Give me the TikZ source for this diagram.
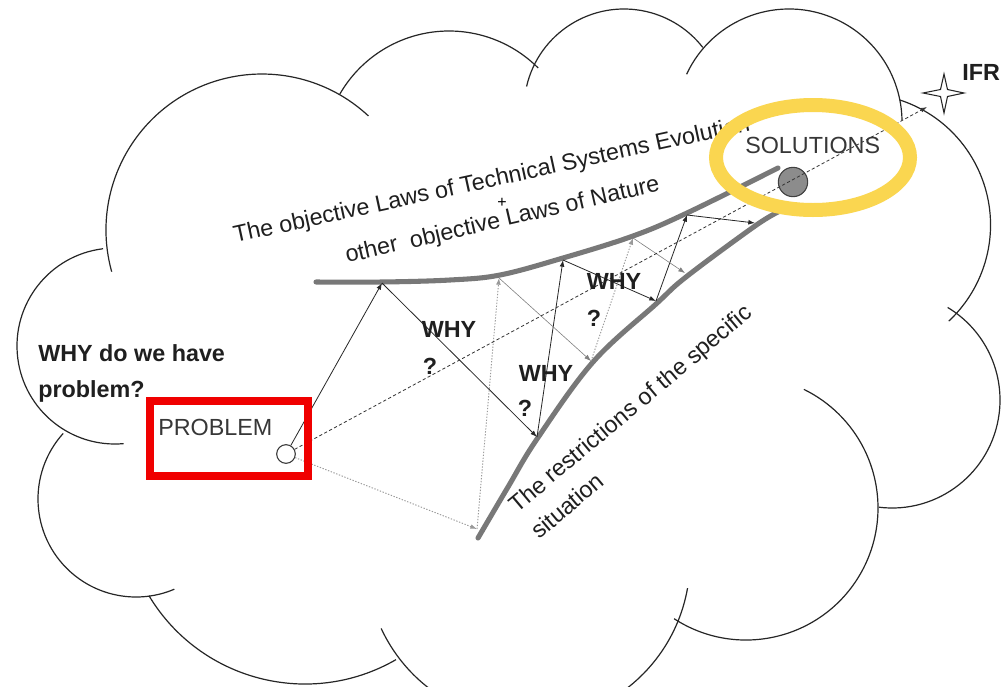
\documentclass[tikz,border=0pt]{standalone}
\usepackage{fontspec}
\setmainfont{Liberation Sans}
\usetikzlibrary{arrows.meta}
\definecolor{ringyellow}{RGB}{250,214,80}
\definecolor{boxred}{RGB}{240,0,0}
\definecolor{inkgray}{RGB}{55,55,55}
\definecolor{curvegray}{RGB}{120,120,120}
\begin{document}
\begin{tikzpicture}[x=0.75pt,y=-0.75pt,
  cloudline/.style={draw=black!85,line width=0.9pt},
  boundary/.style={draw=curvegray,line width=3.8pt,line cap=round},
  tip/.style={-{Latex[length=5pt,width=3.6pt]}},
  why/.style={tip,line width=0.6pt,black!85},
  whydot/.style={tip,line width=0.7pt,black!40,dash pattern=on 1pt off 1.2pt},
  whythin/.style={tip,line width=0.45pt,black!50},
  mainpath/.style={tip,line width=0.6pt,black!80,dash pattern=on 2.4pt off 1.8pt},
  lbl/.style={font=\fontsize{17.5}{21}\selectfont,text=black!88,inner sep=0pt},
  boldlbl/.style={font=\fontsize{17.5}{21}\selectfont\bfseries,text=black!88,inner sep=0pt},
  plainlbl/.style={font=\fontsize{17.5}{21}\selectfont,text=inkgray,inner sep=0pt}
]
\useasboundingbox (0,0) rectangle (1003,686);
\fill[white] (0,0) rectangle (1003,686);
\clip (0,0) rectangle (1003,686);

% cloud outline: overlapping circular lobes
\draw[cloudline] (115,346) ++(-97:98) arc[start angle=-97,end angle=-275,radius=98];
\draw[cloudline] (136,499) ++(-138:98) arc[start angle=-138,end angle=-293,radius=98];
\draw[cloudline] (305,502) ++(-211:182) arc[start angle=-211,end angle=-300,radius=182];
\draw[cloudline] (528,560) ++(-205:162) arc[start angle=-205,end angle=-350,radius=162];
\draw[cloudline] (746,508) ++(-237:132) arc[start angle=-237,end angle=-424,radius=132];
\draw[cloudline] (892,400) ++(-263:108) arc[start angle=-263,end angle=-419,radius=108];
\draw[cloudline] (859,225) ++(-72:131.5) arc[start angle=-72,end angle=47,radius=131.5];
\draw[cloudline] (789,122) ++(-155:113) arc[start angle=-155,end angle=-1,radius=113];
\draw[cloudline] (624,109) ++(-167:100) arc[start angle=-167,end angle=-38,radius=100];
\draw[cloudline] (449,157) ++(-150:126) arc[start angle=-150,end angle=-45,radius=126];
\draw[cloudline] (262,230) ++(-195.5:156) arc[start angle=-195.5,end angle=-47,radius=156];

% the two bounding curves
\draw[boundary] plot[smooth,tension=0.6] coordinates {(316,282) (382,282) (450,280) (500,275) (563,258) (633,236) (687,213) (778,168)};
\draw[boundary] plot[smooth,tension=0.6] coordinates {(478,538) (508,487) (537,439) (593,362) (656,304) (686,277) (755,226) (780,211)};

% touch points on the curves
\coordinate (u1) at (382,283);
\coordinate (u2) at (499,278);
\coordinate (u3) at (563,260);
\coordinate (u4) at (633,238);
\coordinate (u5) at (687,215);
\coordinate (l0) at (477,529);
\coordinate (l1) at (537,437);
\coordinate (l2) at (591,361);
\coordinate (l3) at (656,301);
\coordinate (l4) at (685,273);
\coordinate (l5) at (755,223);
\coordinate (ifrtip) at (927,107);

% texts along the curves
\node[lbl,anchor=base west,rotate=12.3] (lawsA) at (235,243) {The objective Laws of Technical Systems Evolution};
\node[font=\fontsize{12}{14}\selectfont,inner sep=0pt] (plus) at (502,203) {+};
\node[lbl,anchor=base west,rotate=13] (lawsB) at (347,263) {other\ \ objective Laws of Nature};
\node[lbl,anchor=base west,rotate=40] (restrA) at (517,514) {The restrictions of the specific};
\node[lbl,anchor=base west,rotate=40] (restrB) at (539,540) {situation};

% problem and solution points
\node[circle,draw=inkgray,line width=0.8pt,fill=white,minimum size=14pt,inner sep=0pt] (prob) at (286,454) {};
\node[circle,draw=black!75,line width=0.8pt,fill=black!45,minimum size=22pt,inner sep=0pt] (sol) at (793,182) {};

% zig-zag of questions between the curves
\draw[why] (prob) -- (u1);
\draw[why] (u1) -- (l1);
\draw[why] (l1) -- (u3);
\draw[why] (u3) -- (l3);
\draw[why] (l3) -- (u5);
\draw[why] (u5) -- (l5);
\draw[whydot] (prob) -- (l0);
\draw[whydot] (l0) -- (u2);
\draw[whythin] (u2) -- (l2);
\draw[whydot] (l2) -- (u4);
\draw[whythin] (u4) -- (l4);

% direct path towards the ideal final result
\draw[mainpath] (prob) -- (ifrtip);

% ideal final result star
\filldraw[fill=white,draw=black!85,line width=0.8pt] (944,74) -- (947.5,89.5) -- (964,93) -- (947.5,96.5) -- (944,113) -- (940.5,96.5) -- (923,93) -- (940.5,89.5) -- cycle;
\node[boldlbl,anchor=base west] (ifr) at (962,80) {IFR};

% WHY labels
\node[boldlbl] (why1) at (449,329) {WHY};
\node[boldlbl] (q1) at (430,366) {?};
\node[boldlbl] (why2) at (546,373) {WHY};
\node[boldlbl] (q2) at (525,408) {?};
\node[boldlbl] (why3) at (614,281) {WHY};
\node[boldlbl] (q3) at (594,318) {?};
\node[boldlbl,anchor=base west] (askA) at (38,361) {WHY do we have};
\node[boldlbl,anchor=base west] (askB) at (38,397) {problem?};

% PROBLEM / SOLUTIONS
\node[plainlbl,anchor=base west] (probtxt) at (158,435) {PROBLEM};
\node[plainlbl,anchor=base west] (soltxt) at (745,153) {SOLUTIONS};

% highlights
\draw[boxred,line width=6pt] (150,401) rectangle (308,476);
\draw[ringyellow,line width=10.5pt] (813,157.5) ellipse[x radius=97,y radius=52.5];
\end{tikzpicture}
\end{document}
